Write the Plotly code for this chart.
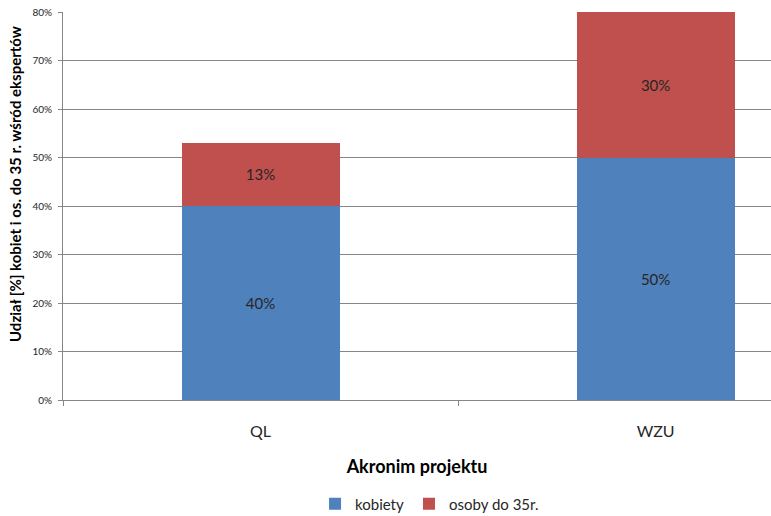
import plotly.graph_objects as go

categories = ["QL", "WZU"]
kobiety = [0.40, 0.50]
osoby = [0.13, 0.30]
series_names = ["kobiety", "osoby do 35r."]
y_ticks = [0, 0.1, 0.2, 0.3, 0.4, 0.5, 0.6, 0.7, 0.8]

FONT = "Lato"
TXT = "#262626"

fig = go.Figure()
fig.add_trace(go.Bar(x=categories, y=kobiety, name=series_names[0], marker_color="#4F81BD",
                     marker_line_width=0, width=0.4,
                     texttemplate="%{y:.0%}", textposition="inside", insidetextanchor="middle",
                     textfont=dict(family=FONT, size=15, color=TXT)))
fig.add_trace(go.Bar(x=categories, y=osoby, name=series_names[1], marker_color="#C0504D",
                     marker_line_width=0, width=0.4,
                     texttemplate="%{y:.0%}", textposition="inside", insidetextanchor="middle",
                     textfont=dict(family=FONT, size=15, color=TXT)))

fig.update_layout(
    width=771, height=516,
    barmode="stack",
    plot_bgcolor="white", paper_bgcolor="white",
    margin=dict(l=63, r=0, t=12, b=116, autoexpand=False),
    font=dict(family=FONT, color=TXT),
    showlegend=True,
    legend=dict(orientation="h", x=0.356, xanchor="left", y=-0.268, yanchor="middle",
                font=dict(family=FONT, size=15, color=TXT), traceorder="normal"),
)
fig.update_xaxes(range=[-0.5, 1.292], showline=True, linecolor="#868686", linewidth=1,
                 ticks="outside", tickson="boundaries", ticklen=5, tickcolor="#868686",
                 ticklabelstandoff=17, automargin=False,
                 tickfont=dict(family=FONT, size=16, color=TXT),
                 title=dict(text="<b>Akronim projektu</b>", font=dict(family=FONT, size=18, color="black"),
                            standoff=21),
                 showgrid=False)
fig.update_yaxes(range=[0, 0.8], tickvals=y_ticks, tickformat=".0%", showline=True,
                 linecolor="#868686", linewidth=1, ticks="outside", ticklen=4, tickcolor="#868686",
                 ticklabelstandoff=4,
                 showgrid=True, gridcolor="#868686", gridwidth=1, zeroline=False, automargin=False,
                 tickfont=dict(family=FONT, size=10, color=TXT))

fig.add_annotation(text="<b>Udział [%] kobiet i os. do 35 r. wśród ekspertów</b>",
                   xref="paper", yref="paper", x=(15 - 63) / 708, y=(400 - 184) / 388,
                   xanchor="center", yanchor="middle", textangle=-90, showarrow=False,
                   font=dict(family=FONT, size=15, color="black"))

fig.write_html("out.html")
